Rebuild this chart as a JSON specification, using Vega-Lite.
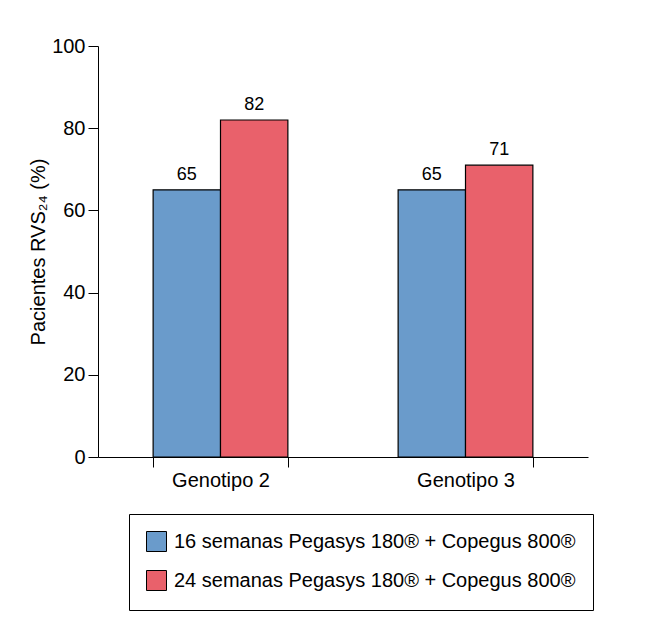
{
  "$schema": "https://vega.github.io/schema/vega-lite/v6.json",
  "width": 490,
  "height": 411,
  "autosize": "none",
  "padding": {"left": 98, "top": 46, "right": 61, "bottom": 170},
  "background": "white",
  "config": {"view": {"stroke": null}, "font": "Liberation Sans"},
  "data": {
    "values": [
      {"genotipo": "Genotipo 2", "grupo": "16 semanas Pegasys 180® + Copegus 800®", "valor": 65},
      {"genotipo": "Genotipo 2", "grupo": "24 semanas Pegasys 180® + Copegus 800®", "valor": 82},
      {"genotipo": "Genotipo 3", "grupo": "16 semanas Pegasys 180® + Copegus 800®", "valor": 65},
      {"genotipo": "Genotipo 3", "grupo": "24 semanas Pegasys 180® + Copegus 800®", "valor": 71}
    ]
  },
  "encoding": {
    "x": {
      "field": "genotipo",
      "type": "nominal",
      "scale": {"paddingInner": 0.45, "paddingOuter": 0.225},
      "axis": {
        "title": null,
        "labelAngle": 0,
        "tickBand": "extent",
        "domainColor": "black",
        "tickColor": "black",
        "tickSize": 10,
        "labelFontSize": 20,
        "labelColor": "black",
        "labelPadding": 3
      }
    },
    "xOffset": {"field": "grupo", "type": "nominal", "scale": {"paddingInner": 0, "paddingOuter": 0}},
    "y": {
      "field": "valor",
      "type": "quantitative",
      "scale": {"domain": [0, 100]},
      "axis": {
        "values": [0, 20, 40, 60, 80, 100],
        "grid": false,
        "title": "Pacientes RVS₂₄ (%)",
        "titleFontSize": 20,
        "titleFontWeight": "normal",
        "titleColor": "black",
        "titlePadding": 3,
        "domainColor": "black",
        "tickColor": "black",
        "tickSize": 10,
        "labelFontSize": 20,
        "labelColor": "black",
        "labelPadding": 3
      }
    }
  },
  "layer": [
    {
      "mark": {"type": "bar", "stroke": "black", "strokeWidth": 1.2},
      "encoding": {
        "color": {
          "field": "grupo",
          "type": "nominal",
          "scale": {"range": ["#6a9bcb", "#e9616b"]},
          "legend": {
            "title": null,
            "orient": "none",
            "legendX": 31,
            "legendY": 468,
            "padding": 17,
            "strokeColor": "black",
            "fillColor": "white",
            "symbolType": "square",
            "symbolSize": 400,
            "symbolStrokeColor": "black",
            "symbolStrokeWidth": 1,
            "symbolOpacity": 1,
            "labelFontSize": 20,
            "labelColor": "black",
            "labelOffset": 7,
            "labelLimit": 600,
            "rowPadding": 14
          }
        }
      }
    },
    {
      "mark": {"type": "text", "baseline": "alphabetic", "dy": -10, "fontSize": 18, "color": "black"},
      "encoding": {"text": {"field": "valor", "type": "quantitative"}}
    }
  ]
}
